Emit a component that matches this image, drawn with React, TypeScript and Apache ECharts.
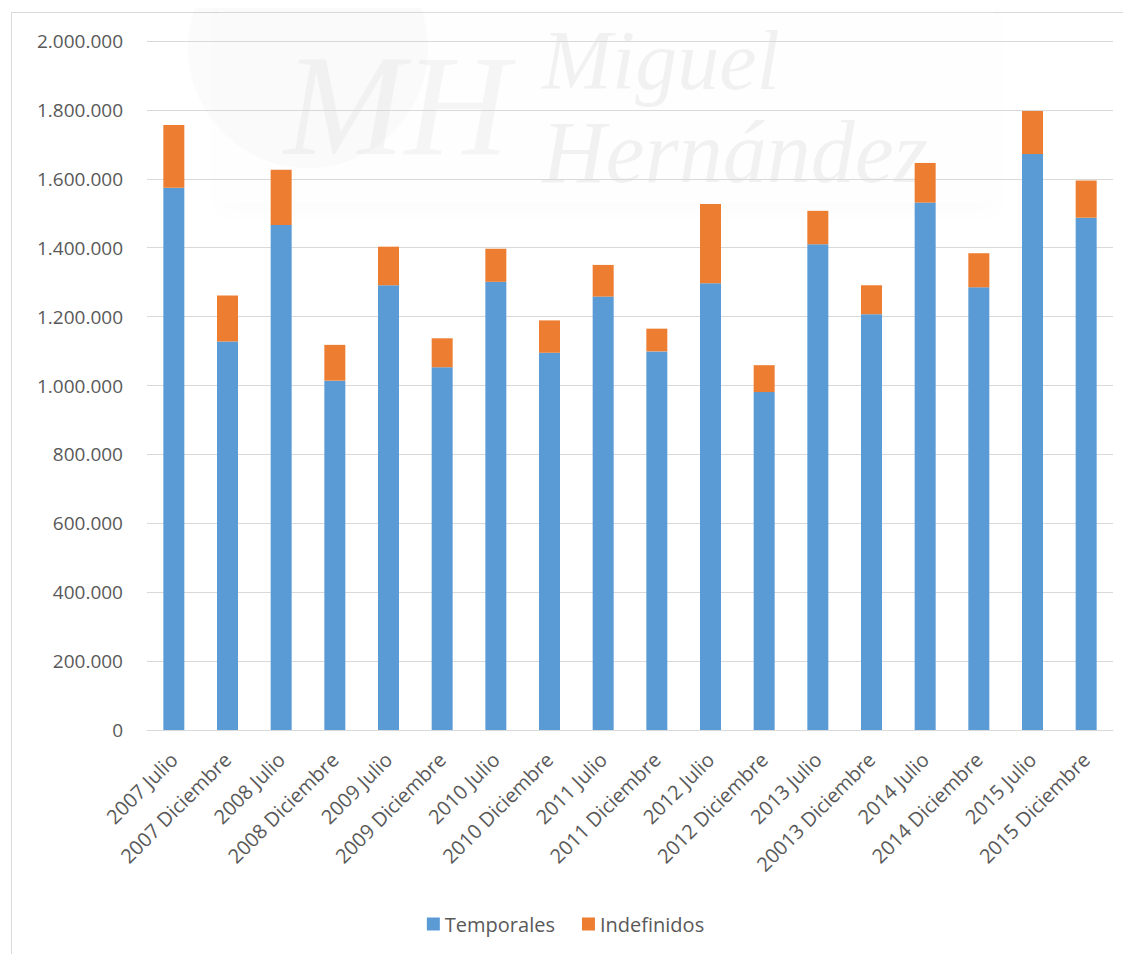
import React, { useEffect, useRef } from "react";
import * as echarts from "echarts";

const categories = [
  "2007 Julio", "2007 Diciembre", "2008 Julio", "2008 Diciembre",
  "2009 Julio", "2009 Diciembre", "2010 Julio", "2010 Diciembre",
  "2011 Julio", "2011 Diciembre", "2012 Julio", "2012 Diciembre",
  "2013 Julio", "20013 Diciembre", "2014 Julio", "2014 Diciembre",
  "2015 Julio", "2015 Diciembre",
];

const temporales = [
  1574000, 1128000, 1466000, 1014000, 1291000, 1053000, 1301000, 1095000,
  1258000, 1099000, 1297000, 981000, 1410000, 1207000, 1531000, 1285000,
  1672000, 1487000,
];

const indefinidos = [
  182000, 133000, 160000, 104000, 112000, 84000, 96000, 94000,
  92000, 66000, 230000, 78000, 97000, 84000, 115000, 99000,
  125000, 108000,
];

const yTicks = { min: 0, max: 2000000, interval: 200000 };

const fmt = (v: number) => String(v).replace(/\B(?=(\d{3})+(?!\d))/g, ".");

export default function App() {
  const ref = useRef<HTMLDivElement>(null);
  useEffect(() => {
    document.documentElement.style.overflow = "hidden";
    document.body.style.overflow = "hidden";
    if (!ref.current) return;
    const chart = echarts.init(ref.current, null, { renderer: "svg" });
    const font = "'Open Sans', sans-serif";
    chart.setOption({
      animation: false,
      textStyle: { fontFamily: font },
      grid: { left: 139, right: 10, top: 33, bottom: 224, containLabel: false },
      legend: {
        data: ["Temporales", "Indefinidos"],
        left: "center",
        top: 901,
        icon: "rect",
        itemWidth: 13,
        itemHeight: 13,
        itemGap: 27,
        textStyle: { fontSize: 20, color: "#595959", fontFamily: font },
      },
      xAxis: {
        type: "category",
        data: categories,
        axisLine: { lineStyle: { color: "#d9d9d9", width: 1 } },
        axisTick: { show: false },
        axisLabel: {
          interval: 0,
          rotate: 45,
          fontSize: 20,
          color: "#595959",
          margin: 26,
          fontFamily: font,
        },
      },
      yAxis: {
        type: "value",
        min: yTicks.min,
        max: yTicks.max,
        interval: yTicks.interval,
        axisLine: { show: false },
        axisTick: { show: false },
        splitLine: { lineStyle: { color: "#d9d9d9", width: 1 } },
        axisLabel: {
          fontSize: 19,
          color: "#595959",
          margin: 24,
          fontFamily: font,
          formatter: (v: number) => fmt(v),
        },
      },
      series: [
        {
          name: "Temporales",
          type: "bar",
          stack: "total",
          barWidth: 21,
          data: temporales,
          itemStyle: { color: "#5b9bd5" },
        },
        {
          name: "Indefinidos",
          type: "bar",
          stack: "total",
          barWidth: 21,
          data: indefinidos,
          itemStyle: { color: "#ed7d31" },
        },
      ],
      graphic: [
        {
          type: "rect",
          left: 1,
          top: 2,
          shape: { width: 1200, height: 1000 },
          style: { fill: "none", stroke: "#d9d9d9", lineWidth: 1 },
          silent: true,
          z: 0,
        },
        {
          type: "group",
          silent: true,
          z: 100,
          children: [
            {
              type: "rect",
              shape: { x: 211, y: -8, width: 775, height: 203 },
              style: {
                fill: "rgba(255,255,255,0.12)",
                shadowBlur: 18,
                shadowOffsetY: 8,
                shadowColor: "rgba(0,0,0,0.10)",
              },
            },
            {
              type: "circle",
              shape: { cx: 300, cy: 40, r: 120 },
              style: { fill: "rgba(0,0,0,0.015)" },
            },
            {
              type: "text",
              x: 276,
              y: 24,
              style: {
                text: "MH",
                font: "italic 145px 'Liberation Serif', serif",
                fill: "rgba(0,0,0,0.035)",
                textVerticalAlign: "top",
              },
            },
            {
              type: "text",
              x: 534,
              y: 10,
              style: {
                text: "Miguel",
                font: "italic 84px 'Liberation Serif', serif",
                fill: "rgba(0,0,0,0.05)",
                textVerticalAlign: "top",
              },
            },
            {
              type: "text",
              x: 534,
              y: 100,
              style: {
                text: "Hernández",
                font: "italic 88px 'Liberation Serif', serif",
                fill: "rgba(0,0,0,0.05)",
                textVerticalAlign: "top",
              },
            },
          ],
        },
      ],
    });
    return () => chart.dispose();
  }, []);
  return <div ref={ref} style={{ width: 1115, height: 946 }} />;
}
